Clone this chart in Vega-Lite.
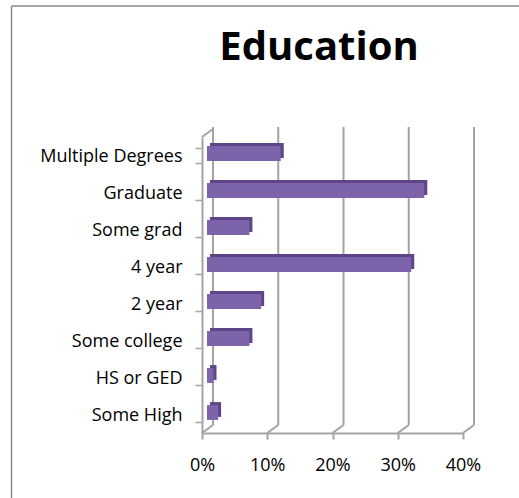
{
  "$schema": "https://vega.github.io/schema/vega-lite/v6.json",
  "width": 261,
  "height": 296,
  "autosize": "none",
  "padding": {"left": 202, "top": 137, "right": 56, "bottom": 65},
  "background": "white",
  "config": {"view": {"stroke": null}, "font": "Open Sans"},
  "title": {"text": "Education", "font": "Open Sans", "fontSize": 40, "fontWeight": "bold", "color": "#000000", "anchor": "middle", "frame": "group", "dx": -13.5, "offset": -63},
  "datasets": {
    "edu": [
      {"level": "Multiple Degrees", "share": 0.113},
      {"level": "Graduate", "share": 0.333},
      {"level": "Some grad", "share": 0.065},
      {"level": "4 year", "share": 0.313},
      {"level": "2 year", "share": 0.083},
      {"level": "Some college", "share": 0.065},
      {"level": "HS or GED", "share": 0.010},
      {"level": "Some High", "share": 0.017}
    ],
    "gridTicks": [{"t": 0}, {"t": 0.1}, {"t": 0.2}, {"t": 0.3}, {"t": 0.4}],
    "frame": [{"part": "chart area"}]
  },
  "layer": [
    {
      "data": {"name": "gridTicks"},
      "encoding": {
        "x": {"field": "t", "type": "quantitative", "scale": {"domain": [0, 0.4], "nice": false, "zero": true}, "axis": null}
      },
      "layer": [
        {
          "mark": {"type": "rule", "color": "#a3a3a3", "strokeWidth": 2, "xOffset": 11, "yOffset": -8, "y2Offset": -10},
          "encoding": {
            "y": {"datum": 0, "type": "quantitative", "scale": {"domain": [0, 1]}, "axis": null},
            "y2": {"datum": 1}
          }
        },
        {
          "mark": {"type": "rule", "color": "#a3a3a3", "strokeWidth": 2, "x2Offset": 11, "y2Offset": -8},
          "encoding": {
            "x2": {"field": "t"},
            "y": {"datum": 0, "type": "quantitative", "scale": {"domain": [0, 1]}, "axis": null},
            "y2": {"datum": 0}
          }
        },
        {
          "transform": [{"filter": "datum.t == 0"}],
          "mark": {"type": "rule", "color": "#a3a3a3", "strokeWidth": 2, "x2Offset": 11, "y2Offset": -8},
          "encoding": {
            "x2": {"field": "t"},
            "y": {"datum": 1, "type": "quantitative", "scale": {"domain": [0, 1]}, "axis": null},
            "y2": {"datum": 1}
          }
        }
      ]
    },
    {
      "data": {"name": "edu"},
      "encoding": {
        "y": {
          "field": "level", "type": "nominal", "sort": null,
          "scale": {"paddingInner": 0.6, "paddingOuter": 0.3},
          "axis": {"title": null, "tickBand": "extent", "grid": false, "domainColor": "#a3a3a3", "domainWidth": 2, "tickColor": "#a3a3a3", "tickWidth": 1.5, "tickSize": 7, "labelPadding": 13, "labelFont": "Open Sans", "labelFontSize": 18, "labelColor": "#000000", "labelOffset": 1}
        },
        "x": {
          "field": "share", "type": "quantitative",
          "scale": {"domain": [0, 0.4], "nice": false},
          "axis": {"title": null, "values": [0, 0.1, 0.2, 0.3, 0.4], "format": ".0%", "grid": false, "domainColor": "#a3a3a3", "domainWidth": 2, "tickColor": "#a3a3a3", "tickWidth": 2, "tickSize": 6, "labelPadding": 17, "labelFont": "Open Sans", "labelFontSize": 18, "labelColor": "#000000", "labelFlush": false}
        }
      },
      "layer": [
        {"mark": {"type": "bar", "color": "#5e4588", "xOffset": 8, "x2Offset": 8, "yOffset": -5}},
        {"mark": {"type": "bar", "color": "#7d63aa", "xOffset": 5, "x2Offset": 5, "yOffset": -2}}
      ]
    },
    {
      "data": {"name": "frame"},
      "layer": [
        {
          "mark": {"type": "rule", "color": "#8a8a8a", "strokeWidth": 1.5},
          "encoding": {
            "x": {"datum": 0, "type": "quantitative", "scale": {"domain": [0, 1], "range": [-190.5, 317]}, "axis": null},
            "y": {"datum": 0, "type": "quantitative", "scale": {"domain": [0, 1], "range": [361, -131]}, "axis": null},
            "y2": {"datum": 1}
          }
        },
        {
          "mark": {"type": "rule", "color": "#8a8a8a", "strokeWidth": 1.5},
          "encoding": {
            "x": {"datum": 0, "type": "quantitative", "scale": {"domain": [0, 1], "range": [-190.5, 317]}, "axis": null},
            "x2": {"datum": 1},
            "y": {"datum": 1, "type": "quantitative", "scale": {"domain": [0, 1], "range": [361, -131]}, "axis": null}
          }
        }
      ]
    }
  ],
  "resolve": {"scale": {"x": "independent", "y": "independent"}}
}
